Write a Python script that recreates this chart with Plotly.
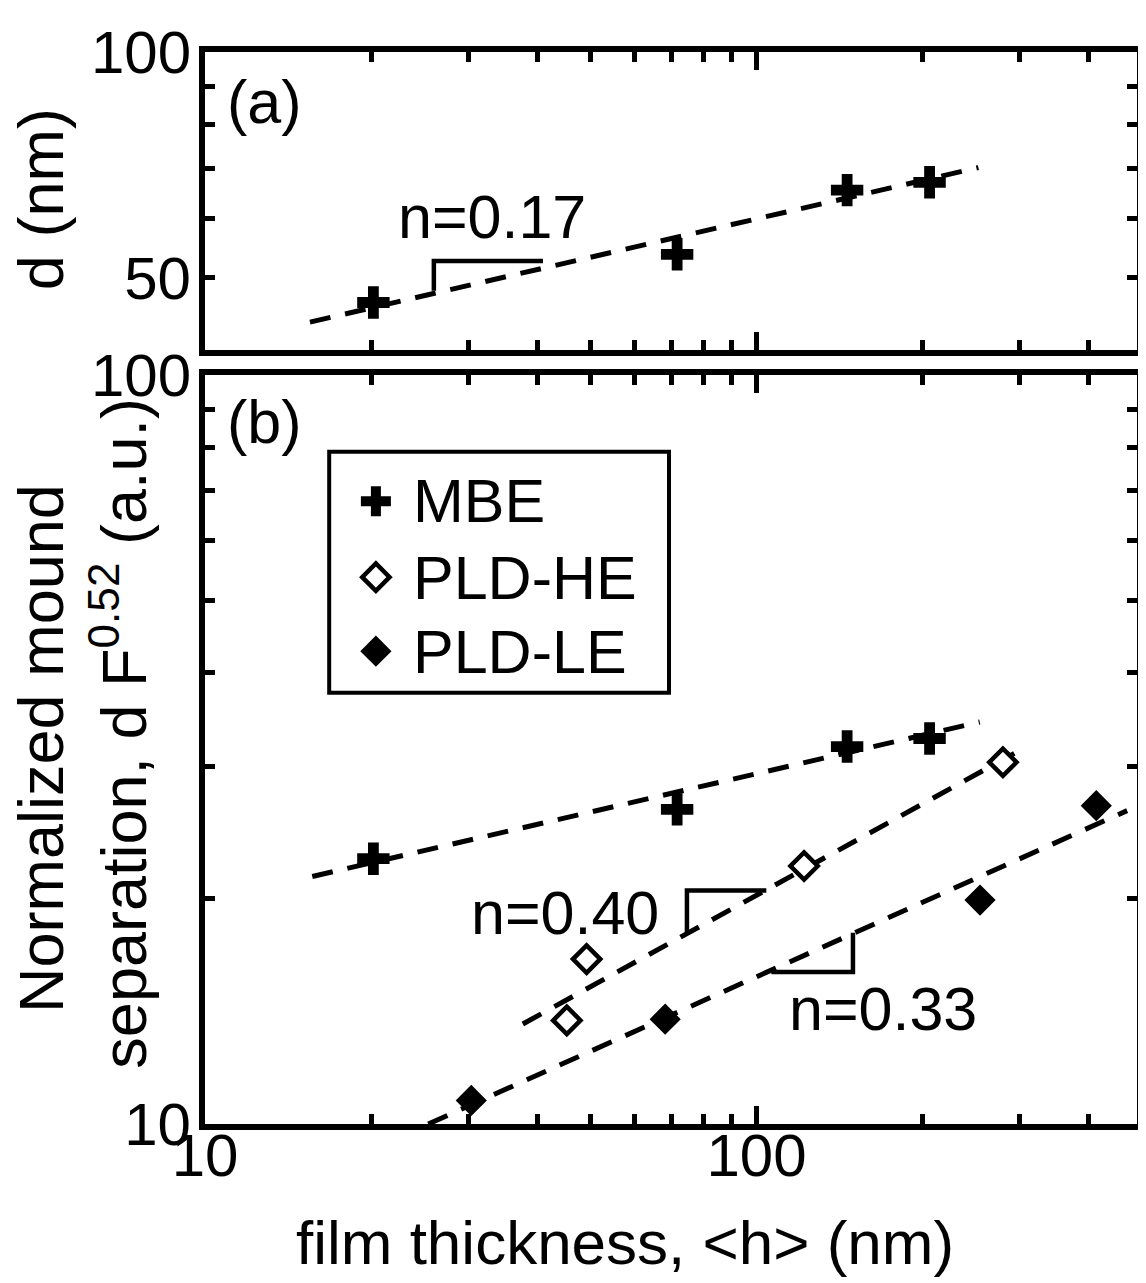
import math
import plotly.graph_objects as go

# ---------------- data ----------------
mbe_x = [20.2, 71.8, 146.0, 206.0]
mbe_d = [46.3, 53.7, 65.4, 67.0]          # panel (a)
mbe_norm = [22.6, 26.3, 31.9, 32.7]       # panel (b)
he_x = [45.3, 49.2, 122.0, 279.8]
he_norm = [13.75, 16.6, 22.1, 30.4]
le_x = [30.4, 68.3, 254.3, 413.2]
le_norm = [10.75, 13.8, 19.9, 26.6]

fit_a_x = [15.5, 252.6]
fit_a_y = [43.6, 70.1]
fit_mbe_x = [15.65, 254.0]
fit_mbe_y = [21.4, 34.4]
fit_he_x = [37.7, 309.0]
fit_he_y = [13.6, 31.9]
fit_le_x = [25.4, 470.0]
fit_le_y = [10.0, 26.2]

tri_a_x = [26.0, 26.0, 41.0]
tri_a_y = [48.0, 52.6, 52.6]
tri_he_x = [74.8, 74.8, 104.2]
tri_he_y = [18.0, 20.5, 20.5]
tri_le_x = [106.4, 149.6, 149.6]
tri_le_y = [15.95, 15.95, 18.0]

x_major = [10, 100]
x_minor = [20, 30, 40, 50, 60, 70, 80, 90, 200, 300, 400]
ya_major = [50, 100]
ya_minor = [40, 60, 70, 80, 90]
yb_major = [10, 100]
yb_minor = [20, 30, 40, 50, 60, 70, 80, 90]

legend_names = ["MBE", "PLD-HE", "PLD-LE"]

# ---------------- layout helpers ----------------
W, H = 1146, 1283
OFF = 8                      # page body margin offset
L, R, T, B = 197, 11, 30, 167
PW, PH = W - L - R, H - T - B


def xp(px):
    return (px - OFF - L) / PW


def yp(py):
    return (H - B - (py - OFF)) / PH


FONT = "Liberation Sans, Arial, Helvetica, sans-serif"
BLACK = "black"
DASH = "21px,15px"

fig = go.Figure()

# fit lines (drawn first)
for xs, ys, xa, ya in [
    (fit_a_x, fit_a_y, "x2", "y2"),
    (fit_mbe_x, fit_mbe_y, "x", "y"),
    (fit_he_x, fit_he_y, "x", "y"),
    (fit_le_x, fit_le_y, "x", "y"),
]:
    fig.add_trace(go.Scatter(x=xs, y=ys, xaxis=xa, yaxis=ya, mode="lines",
                             line=dict(color=BLACK, width=5, dash=DASH),
                             showlegend=False, hoverinfo="skip"))

# slope triangles
for xs, ys, xa, ya in [
    (tri_a_x, tri_a_y, "x2", "y2"),
    (tri_he_x, tri_he_y, "x", "y"),
    (tri_le_x, tri_le_y, "x", "y"),
]:
    fig.add_trace(go.Scatter(x=xs, y=ys, xaxis=xa, yaxis=ya, mode="lines",
                             line=dict(color=BLACK, width=4.5),
                             showlegend=False, hoverinfo="skip"))

cross = dict(symbol="cross", size=27, color=BLACK, line=dict(width=0))
open_d = dict(symbol="diamond", size=21, color="white", line=dict(width=4.5, color=BLACK))
fill_d = dict(symbol="diamond", size=24, color=BLACK, line=dict(width=0))

fig.add_trace(go.Scatter(x=mbe_x, y=mbe_d, xaxis="x2", yaxis="y2", mode="markers",
                         marker=cross, showlegend=False, name="MBE"))
fig.add_trace(go.Scatter(x=mbe_x, y=mbe_norm, xaxis="x", yaxis="y", mode="markers",
                         marker=cross, showlegend=False, name="MBE"))
fig.add_trace(go.Scatter(x=he_x, y=he_norm, xaxis="x", yaxis="y", mode="markers",
                         marker=open_d, showlegend=False, name="PLD-HE"))
fig.add_trace(go.Scatter(x=le_x, y=le_norm, xaxis="x", yaxis="y", mode="markers",
                         marker=fill_d, showlegend=False, name="PLD-LE"))

# legend keys on a hidden overlay subplot (paper-like coordinates)
leg_key_x = xp(377)
leg_rows_y = [yp(493), yp(570), yp(645)]
for yv, mk in zip(leg_rows_y, [dict(cross, size=25), open_d, fill_d]):
    fig.add_trace(go.Scatter(x=[leg_key_x], y=[yv], xaxis="x3", yaxis="y3",
                             mode="markers", marker=mk, showlegend=False,
                             hoverinfo="skip"))

ax_common = dict(
    type="log", showline=True, linewidth=6, linecolor=BLACK, mirror="ticks",
    ticks="inside", tickwidth=5, tickcolor=BLACK, showgrid=False, zeroline=False,
    tickfont=dict(family=FONT, size=60, color=BLACK), tickmode="array",
)

fig.update_layout(
    width=W, height=H,
    margin=dict(l=L, r=R, t=T, b=B, pad=0),
    paper_bgcolor="white", plot_bgcolor="rgba(0,0,0,0)",
    font=dict(family=FONT, color=BLACK),
    showlegend=False,
    xaxis=dict(ax_common, domain=[0, 1], anchor="y", range=[1, 2.69],
               tickvals=x_major, ticktext=[str(v) for v in x_major], ticklen=18,
               ticklabelstandoff=-26,
               minor=dict(tickmode="array", tickvals=x_minor, ticks="inside",
                          ticklen=10, tickwidth=5, tickcolor=BLACK, showgrid=False)),
    xaxis2=dict(ax_common, domain=[0, 1], anchor="y2", matches="x", range=[1, 2.69],
                tickvals=x_major, ticktext=[str(v) for v in x_major], ticklen=18,
                showticklabels=False,
                minor=dict(tickmode="array", tickvals=x_minor, ticks="inside",
                           ticklen=10, tickwidth=5, tickcolor=BLACK, showgrid=False)),
    yaxis=dict(ax_common, domain=[0, yp(365)], anchor="x", range=[1, 2],
               tickvals=yb_major, ticktext=[str(v) for v in yb_major], ticklen=10,
               ticklabelstandoff=-4,
               minor=dict(tickmode="array", tickvals=yb_minor, ticks="inside",
                          ticklen=10, tickwidth=5, tickcolor=BLACK, showgrid=False)),
    yaxis2=dict(ax_common, domain=[yp(340), 1], anchor="x2",
                range=[math.log10(40), 2],
                tickvals=ya_major, ticktext=[str(v) for v in ya_major], ticklen=10,
                ticklabelstandoff=-4,
                minor=dict(tickmode="array", tickvals=ya_minor, ticks="inside",
                           ticklen=10, tickwidth=5, tickcolor=BLACK, showgrid=False)),
    xaxis3=dict(domain=[0, 1], anchor="y3", range=[0, 1], visible=False, fixedrange=True),
    yaxis3=dict(domain=[0, 1], anchor="x3", range=[0, 1], visible=False, fixedrange=True),
)

# legend box
fig.add_shape(type="rect", xref="paper", yref="paper",
              x0=xp(330), x1=xp(672), y0=yp(687), y1=yp(443),
              line=dict(color=BLACK, width=4), fillcolor="rgba(0,0,0,0)", layer="below")

ann = []


def txt(s, px, py, size=61, xanchor="center", angle=0):
    ann.append(dict(text=s, x=xp(px), y=yp(py), xref="paper", yref="paper",
                    xanchor=xanchor, yanchor="middle", showarrow=False,
                    textangle=angle, font=dict(family=FONT, size=size, color=BLACK)))


for name, yv in zip(legend_names, [493, 571, 646]):
    txt(name, 412, yv, xanchor="left")

txt("(a)", 265, 89)
txt("(b)", 265, 413)
txt("n=0.17", 494, 205)
txt("n=0.40", 567, 910)
txt("n=0.33", 887, 1008)
txt("d (nm)", 40, 187, size=63, angle=-90)
txt("Normalized mound", 40, 744, size=63, angle=-90)
txt("separation, d F<sup>0.52</sup> (a.u.)", 118, 728, size=63, angle=-90)
txt("film thickness, &lt;h&gt; (nm)", 628, 1244, size=62)

fig.update_layout(annotations=ann)

fig.write_html("out.html")
